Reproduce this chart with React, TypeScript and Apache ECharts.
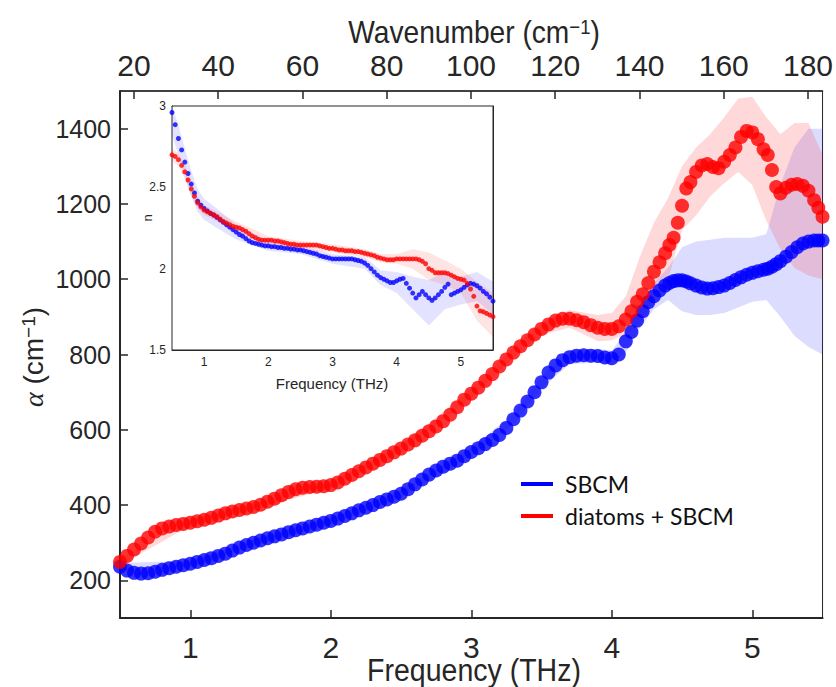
import React, { useEffect, useRef } from "react";
import * as echarts from "echarts";

// ---------- main plot data (absorption coefficient, cm^-1) ----------
const freqMain = [
  0.5, 0.55, 0.6, 0.65, 0.7, 0.75, 0.8, 0.85, 0.9, 0.95,
  1.0, 1.05, 1.1, 1.15, 1.2, 1.25, 1.3, 1.35, 1.4, 1.45,
  1.5, 1.55, 1.6, 1.65, 1.7, 1.75, 1.8, 1.85, 1.9, 1.95,
  2.0, 2.05, 2.1, 2.15, 2.2, 2.25, 2.3, 2.35, 2.4, 2.45,
  2.5, 2.55, 2.6, 2.65, 2.7, 2.75, 2.8, 2.85, 2.9, 2.95,
  3.0, 3.05, 3.1, 3.15, 3.2, 3.25, 3.3, 3.35, 3.4, 3.45,
  3.5, 3.55, 3.6, 3.65, 3.7, 3.75, 3.8, 3.85, 3.9, 3.95,
  4.0, 4.05,
  4.1, 4.14, 4.18, 4.22, 4.26, 4.3, 4.34, 4.38, 4.41, 4.44,
  4.47, 4.5, 4.53, 4.56, 4.6, 4.64, 4.68, 4.72, 4.76, 4.8,
  4.84, 4.88, 4.92, 4.96, 5.0, 5.04, 5.08, 5.11, 5.14, 5.17,
  5.2, 5.24, 5.28, 5.32, 5.36, 5.4, 5.44, 5.47, 5.5,
];
const alphaSBCM = [
  236, 226, 220, 218, 219, 223, 228, 232, 236, 240,
  244, 249, 254, 259, 265, 271, 279, 287, 294, 300,
  306, 312, 317, 322, 328, 333, 338, 343, 348, 353,
  358, 364, 371, 378, 386, 393, 400, 408, 415, 422,
  430, 442, 455, 468, 481, 492, 502, 510, 518, 530,
  541, 551, 562, 573, 586, 605, 628, 651, 675, 700,
  726, 752, 771, 785, 793, 797, 798, 797, 796, 792,
  790, 800,
  835, 860, 890, 915, 939, 955, 970, 983, 990, 995,
  997, 997, 994, 989, 983, 978, 975, 976, 979, 983,
  990, 998, 1005, 1012, 1017, 1021, 1025, 1028, 1033, 1040,
  1048, 1060, 1072, 1085, 1095, 1100, 1103, 1103, 1103,
];
const alphaDiatoms = [
  249, 265, 282, 298, 314, 329, 338, 343, 347, 350,
  353, 357, 361, 366, 372, 378, 383, 387, 391, 395,
  401, 409, 417, 426, 435, 442, 446, 448, 449, 450,
  453, 460, 470, 480, 490, 500, 510, 520, 530, 540,
  550, 561, 572, 584, 596, 609, 623, 640, 660, 680,
  696, 712, 730, 748, 768, 787, 805, 822, 838, 853,
  868, 880, 890, 895, 895, 891, 886, 878, 871, 868,
  868, 875,
  893, 915, 940, 960, 990, 1020, 1045, 1069, 1091, 1110,
  1150, 1195, 1241, 1258, 1285, 1302, 1306, 1298, 1295, 1312,
  1330, 1350, 1378, 1394, 1390, 1372, 1345, 1330, 1290, 1245,
  1228, 1243, 1251, 1253, 1248, 1235, 1210, 1190, 1166,
];

// uncertainty bands (main)
const bandFreqMain = [0.5, 1.0, 1.5, 2.0, 2.5, 3.0, 3.3, 3.5, 3.7, 3.9, 4.0, 4.1, 4.2, 4.3, 4.4, 4.5, 4.6, 4.7, 4.8, 4.9, 5.0, 5.1, 5.2, 5.3, 5.4, 5.5];
const sbcmLo = [226, 236, 298, 350, 420, 530, 614, 710, 775, 778, 772, 805, 870, 920, 945, 915, 905, 905, 910, 925, 940, 945, 900, 850, 820, 800];
const sbcmHi = [246, 252, 314, 366, 440, 552, 642, 742, 812, 815, 810, 860, 935, 990, 1030, 1085, 1100, 1105, 1110, 1110, 1110, 1120, 1250, 1350, 1400, 1400];
const diatLo = [240, 345, 393, 445, 541, 685, 792, 852, 872, 835, 838, 855, 880, 945, 1000, 1130, 1170, 1220, 1255, 1285, 1250, 1155, 1080, 1030, 1010, 1000];
const diatHi = [258, 361, 409, 461, 559, 707, 818, 884, 918, 905, 910, 955, 1060, 1150, 1215, 1300, 1350, 1385, 1430, 1480, 1485, 1430, 1385, 1415, 1415, 1330];

// ---------- inset data (refractive index n) ----------
const freqInset = [
  0.5, 0.55, 0.6, 0.65, 0.7, 0.75, 0.8, 0.85, 0.9, 0.95,
  1.0, 1.05, 1.1, 1.15, 1.2, 1.25, 1.3, 1.35, 1.4, 1.45,
  1.5, 1.55, 1.6, 1.65, 1.7, 1.75, 1.8, 1.85, 1.9, 1.95,
  2.0, 2.05, 2.1, 2.15, 2.2, 2.25, 2.3, 2.35, 2.4, 2.45,
  2.5, 2.55, 2.6, 2.65, 2.7, 2.75, 2.8, 2.85, 2.9, 2.95,
  3.0, 3.05, 3.1, 3.15, 3.2, 3.25, 3.3, 3.35, 3.4, 3.45,
  3.5, 3.55, 3.6, 3.65, 3.7, 3.75, 3.8, 3.85, 3.9, 3.95,
  4.0, 4.05, 4.1, 4.15, 4.2, 4.25, 4.3, 4.35, 4.4, 4.45,
  4.5, 4.55, 4.6, 4.65, 4.7, 4.75, 4.8, 4.85, 4.9, 4.95,
  5.0, 5.05, 5.1, 5.15, 5.2, 5.25, 5.3, 5.35, 5.4, 5.45,
  5.5,
];
const nSBCM = [
  2.96, 2.885, 2.8, 2.73, 2.655, 2.585, 2.52, 2.465, 2.415, 2.39,
  2.37, 2.355, 2.34, 2.33, 2.315, 2.3, 2.285, 2.27, 2.255, 2.24,
  2.225, 2.21, 2.2, 2.185, 2.17, 2.16, 2.155, 2.15, 2.145, 2.14,
  2.14, 2.135, 2.135, 2.13, 2.13, 2.125, 2.125, 2.12, 2.12, 2.115,
  2.115, 2.11, 2.105, 2.1, 2.095, 2.09, 2.08, 2.075, 2.07, 2.065,
  2.06, 2.06, 2.06, 2.06, 2.06, 2.06, 2.06, 2.055, 2.05, 2.045,
  2.035, 2.02, 2.0, 1.98, 1.96, 1.945, 1.935, 1.925, 1.915, 1.915,
  1.925, 1.935, 1.94, 1.91, 1.88, 1.85, 1.82, 1.84, 1.86, 1.84,
  1.82, 1.805, 1.82, 1.84, 1.86, 1.885, 1.905, 1.84, 1.85, 1.86,
  1.87, 1.885, 1.9, 1.91, 1.905, 1.895, 1.88, 1.86, 1.845, 1.825,
  1.8,
];
const nDiatoms = [
  2.7, 2.69, 2.67, 2.635, 2.595, 2.545, 2.49, 2.445, 2.405, 2.38,
  2.36, 2.35, 2.34, 2.33, 2.32, 2.305, 2.29, 2.28, 2.27, 2.26,
  2.255, 2.25, 2.24, 2.23, 2.215, 2.2, 2.19, 2.18, 2.175, 2.175,
  2.175, 2.175, 2.17, 2.17, 2.165, 2.16, 2.155, 2.15, 2.15, 2.145,
  2.145, 2.145, 2.145, 2.145, 2.145, 2.145, 2.14, 2.135, 2.13, 2.125,
  2.125, 2.12, 2.115, 2.115, 2.11, 2.11, 2.11, 2.105, 2.105, 2.1,
  2.095, 2.09, 2.085, 2.08, 2.07, 2.065, 2.06, 2.055, 2.055, 2.055,
  2.06, 2.06, 2.06, 2.06, 2.06, 2.06, 2.06, 2.055, 2.045, 2.03,
  2.0, 1.99, 1.975, 1.975, 1.975, 1.975, 1.97, 1.96, 1.95, 1.94,
  1.935, 1.93, 1.91, 1.875, 1.83, 1.77, 1.74, 1.735, 1.725, 1.715,
  1.705,
];
const bandFreqInset = [0.5, 0.6, 0.7, 0.8, 0.9, 1.0, 1.2, 1.5, 2.0, 2.5, 3.0, 3.5, 3.75, 4.0, 4.25, 4.5, 4.75, 5.0, 5.25, 5.5];
const nSbcmLo = [2.82, 2.7, 2.57, 2.44, 2.35, 2.3, 2.25, 2.18, 2.11, 2.09, 2.03, 2.0, 1.9, 1.85, 1.75, 1.65, 1.75, 1.78, 1.8, 1.72];
const nSbcmHi = [3.0, 2.88, 2.74, 2.6, 2.49, 2.43, 2.37, 2.27, 2.17, 2.14, 2.09, 2.07, 1.99, 1.98, 1.95, 1.93, 1.98, 1.95, 1.98, 1.92];
const nDiatLo = [2.66, 2.63, 2.55, 2.45, 2.37, 2.33, 2.29, 2.22, 2.15, 2.12, 2.1, 2.07, 2.04, 2.03, 2.0, 1.93, 1.9, 1.85, 1.68, 1.58];
const nDiatHi = [2.74, 2.71, 2.64, 2.53, 2.44, 2.39, 2.35, 2.29, 2.2, 2.17, 2.15, 2.12, 2.09, 2.09, 2.12, 2.1, 2.05, 2.0, 1.92, 1.85];

// ---------- ticks / labels ----------
const freqTicks = [1, 2, 3, 4, 5];
const alphaTicks = [200, 400, 600, 800, 1000, 1200, 1400];
const wavenumberTicks = [20, 40, 60, 80, 100, 120, 140, 160, 180];
const THZ_TO_CM = 33.356;
const seriesNames = ["SBCM", "diatoms + SBCM"];

const AX = "#262626";
const SANS = "'Liberation Sans', Arial, sans-serif";
const plain = (v: number) => String(v);

function band(xi: number, yi: number, f: number[], lo: number[], hi: number[], fill: string) {
  return {
    type: "custom",
    xAxisIndex: xi,
    yAxisIndex: yi,
    silent: true,
    clip: true,
    z: 1,
    data: f.map((v, i) => [v, lo[i], hi[i]]),
    renderItem: (params: any, api: any) => {
      if (params.dataIndex !== 0) return null;
      const pts: number[][] = [];
      for (let i = 0; i < f.length; i++) pts.push(api.coord([f[i], lo[i]]));
      for (let i = f.length - 1; i >= 0; i--) pts.push(api.coord([f[i], hi[i]]));
      return { type: "polygon", shape: { points: pts }, style: { fill } };
    },
  };
}

export default function App() {
  const ref = useRef<HTMLDivElement>(null);
  useEffect(() => {
    if (!ref.current) return;
    const chart = echarts.init(ref.current, null, { renderer: "svg" });
    const lineAx = (w: number) => ({ show: true, onZero: false, lineStyle: { color: AX, width: w } });
    chart.setOption({
      animation: false,
      backgroundColor: "#fff",
      grid: [
        { left: 120, top: 91, right: 8, bottom: 69, show: true, borderColor: AX, borderWidth: 1, backgroundColor: "transparent" },
        { left: 172, top: 106, width: 321, height: 244, show: true, borderColor: AX, borderWidth: 1, backgroundColor: "#fff", z: 3 },
      ],
      xAxis: [
        {
          type: "value", gridIndex: 0, position: "bottom", min: 0.5, max: 5.5,
          axisLine: lineAx(2),
          axisTick: { show: true, inside: true, length: 8, customValues: freqTicks, lineStyle: { color: AX, width: 1.5 } },
          axisLabel: { customValues: freqTicks, fontSize: 30, fontFamily: SANS, color: AX, margin: 14, formatter: plain },
          splitLine: { show: false },
        },
        {
          type: "value", gridIndex: 0, position: "top", min: 0.5 * THZ_TO_CM, max: 5.5 * THZ_TO_CM,
          axisLine: lineAx(1.5),
          axisTick: { show: true, inside: true, length: 8, customValues: wavenumberTicks, lineStyle: { color: AX, width: 1.5 } },
          axisLabel: { customValues: wavenumberTicks, fontSize: 30, fontFamily: SANS, color: AX, margin: 11, formatter: plain },
          splitLine: { show: false },
        },
        {
          type: "value", gridIndex: 1, position: "bottom", min: 0.5, max: 5.5,
          axisLine: lineAx(1),
          axisTick: { show: true, inside: true, length: 4, customValues: freqTicks, lineStyle: { color: AX } },
          axisLabel: { customValues: freqTicks, fontSize: 12, fontFamily: SANS, color: AX, margin: 6, formatter: plain },
          splitLine: { show: false },
        },
        {
          type: "value", gridIndex: 1, position: "top", min: 0.5, max: 5.5,
          axisLine: lineAx(1),
          axisTick: { show: true, inside: true, length: 4, customValues: freqTicks, lineStyle: { color: AX } },
          axisLabel: { show: false },
          splitLine: { show: false },
        },
      ],
      yAxis: [
        {
          type: "value", gridIndex: 0, position: "left", min: 100, max: 1500,
          axisLine: lineAx(2),
          axisTick: { show: true, inside: true, length: 8, customValues: alphaTicks, lineStyle: { color: AX, width: 1.5 } },
          axisLabel: { customValues: alphaTicks, fontSize: 25, fontFamily: SANS, color: AX, margin: 9, formatter: plain },
          splitLine: { show: false },
        },
        {
          type: "value", gridIndex: 1, position: "left", min: 1.5, max: 3, interval: 0.5,
          axisLine: lineAx(1),
          axisTick: { show: true, inside: true, length: 4, lineStyle: { color: AX } },
          axisLabel: { fontSize: 12, fontFamily: SANS, color: AX, margin: 6, formatter: plain },
          splitLine: { show: false },
        },
        {
          type: "value", gridIndex: 1, position: "right", min: 1.5, max: 3, interval: 0.5,
          axisLine: lineAx(1),
          axisTick: { show: true, inside: true, length: 4, lineStyle: { color: AX } },
          axisLabel: { show: false },
          splitLine: { show: false },
        },
      ],
      series: [
        band(0, 0, bandFreqMain, sbcmLo, sbcmHi, "rgba(40,40,255,0.16)"),
        band(0, 0, bandFreqMain, diatLo, diatHi, "rgba(255,30,30,0.17)"),
        {
          name: seriesNames[0], type: "scatter", xAxisIndex: 0, yAxisIndex: 0, z: 2,
          symbol: "circle", symbolSize: 14, itemStyle: { color: "#0000ff" },
          data: freqMain.map((f, i) => [f, alphaSBCM[i]]),
        },
        {
          name: seriesNames[1], type: "scatter", xAxisIndex: 0, yAxisIndex: 0, z: 2,
          symbol: "circle", symbolSize: 14, itemStyle: { color: "#ff0000" },
          data: freqMain.map((f, i) => [f, alphaDiatoms[i]]),
        },
        { ...band(2, 1, bandFreqInset, nSbcmLo, nSbcmHi, "rgba(40,40,255,0.13)"), z: 4 },
        { ...band(2, 1, bandFreqInset, nDiatLo, nDiatHi, "rgba(255,30,30,0.12)"), z: 4 },
        {
          type: "scatter", xAxisIndex: 2, yAxisIndex: 1, z: 5,
          symbol: "circle", symbolSize: 5, itemStyle: { color: "#0000ff" },
          data: freqInset.map((f, i) => [f, nSBCM[i]]),
        },
        {
          type: "scatter", xAxisIndex: 2, yAxisIndex: 1, z: 5,
          symbol: "circle", symbolSize: 5, itemStyle: { color: "#ff0000" },
          data: freqInset.map((f, i) => [f, nDiatoms[i]]),
        },
      ],
      graphic: [
        {
          type: "text", x: 474, y: 32, z: 10, scaleX: 0.88,
          style: {
            text: "Wavenumber (cm{s|−1})", fontSize: 32, fontFamily: SANS, fill: AX,
            align: "center", verticalAlign: "middle",
            rich: { s: { fontSize: 21, fontFamily: SANS, fill: AX, verticalAlign: "top" } },
          },
        },
        {
          type: "text", x: 474, y: 670, z: 10, scaleX: 0.92,
          style: { text: "Frequency (THz)", fontSize: 31, fontFamily: SANS, fill: AX, align: "center", verticalAlign: "middle" },
        },
        {
          type: "text", x: 33, y: 357, rotation: Math.PI / 2, z: 10,
          style: {
            text: "{a|α} (cm{s|−1})", fontSize: 28, fontFamily: SANS, fill: AX,
            align: "center", verticalAlign: "middle",
            rich: {
              a: { fontSize: 28, fontFamily: "'Liberation Serif', serif", fontStyle: "italic", fill: AX },
              s: { fontSize: 19, fontFamily: SANS, fill: AX, verticalAlign: "top" },
            },
          },
        },
        {
          type: "text", x: 147, y: 218, rotation: Math.PI / 2, z: 10,
          style: { text: "n", fontSize: 13, fontFamily: SANS, fill: AX, align: "center", verticalAlign: "middle" },
        },
        {
          type: "text", x: 332, y: 383, z: 10,
          style: { text: "Frequency (THz)", fontSize: 15, fontFamily: SANS, fill: AX, align: "center", verticalAlign: "middle" },
        },
        { type: "line", z: 10, shape: { x1: 521, y1: 484, x2: 553, y2: 484 }, style: { stroke: "#0000ff", lineWidth: 4 } },
        { type: "line", z: 10, shape: { x1: 521, y1: 516, x2: 553, y2: 516 }, style: { stroke: "#ff0000", lineWidth: 4 } },
        {
          type: "text", x: 565, y: 484, z: 10,
          style: { text: seriesNames[0], fontSize: 23, fontFamily: "Lato, 'Open Sans', sans-serif", fill: "#111", align: "left", verticalAlign: "middle" },
        },
        {
          type: "text", x: 565, y: 516, z: 10,
          style: { text: seriesNames[1], fontSize: 23, fontFamily: "Lato, 'Open Sans', sans-serif", fill: "#111", align: "left", verticalAlign: "middle" },
        },
      ],
    });
    return () => chart.dispose();
  }, []);
  return (
    <div
      ref={ref}
      style={{ position: "fixed", left: 0, top: 0, width: 836, height: 687, background: "#fff" }}
    />
  );
}
